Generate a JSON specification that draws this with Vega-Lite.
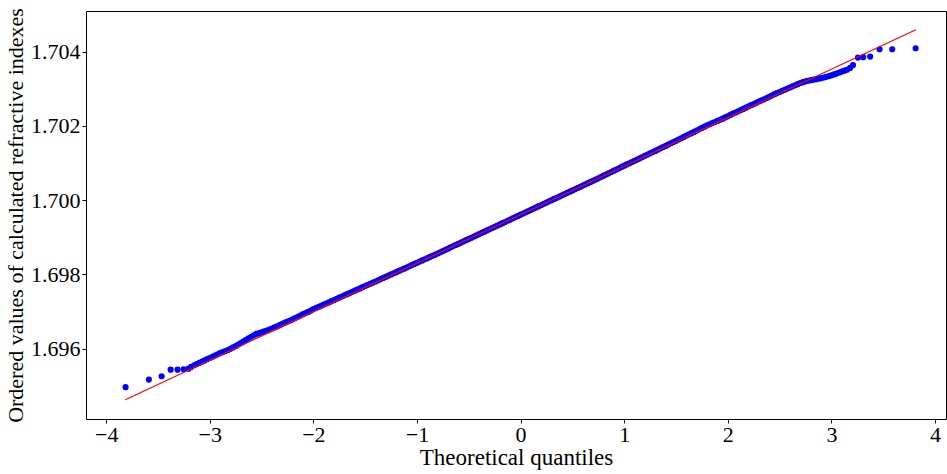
{
  "$schema": "https://vega.github.io/schema/vega-lite/v6.json",
  "autosize": "none",
  "width": 860,
  "height": 408,
  "padding": {"left": 86, "top": 11, "right": 1, "bottom": 55},
  "background": "white",
  "config": {
    "view": {"stroke": "black", "strokeWidth": 1},
    "axis": {
      "labelFont": "Liberation Serif",
      "titleFont": "Liberation Serif",
      "labelFontSize": 22,
      "titleFontSize": 22,
      "titleFontWeight": "normal",
      "labelColor": "black",
      "titleColor": "black",
      "tickColor": "black",
      "tickSize": 4,
      "domain": false,
      "grid": false
    }
  },
  "datasets": {
    "pts": [
      {"x": -3.813, "y": 1.694964}, {"x": -3.588, "y": 1.695168}, {"x": -3.465, "y": 1.695259},
      {"x": -3.378, "y": 1.695436}, {"x": -3.311, "y": 1.695436}, {"x": -3.253, "y": 1.695447},
      {"x": -3.205, "y": 1.695463}, {"x": -3.18, "y": 1.695510},
      {"x": -3.15, "y": 1.695554}, {"x": -3.125, "y": 1.695587}, {"x": -3.10, "y": 1.695619}, {"x": -3.075, "y": 1.695652},
      {"x": -3.05, "y": 1.695685}, {"x": -3.025, "y": 1.695718}, {"x": -3.00, "y": 1.695750}, {"x": -2.975, "y": 1.695783},
      {"x": -2.95, "y": 1.695815}, {"x": -2.925, "y": 1.695848}, {"x": -2.90, "y": 1.695881}, {"x": -2.875, "y": 1.695909},
      {"x": -2.85, "y": 1.695936}, {"x": -2.825, "y": 1.695966}, {"x": -2.80, "y": 1.695996}, {"x": -2.775, "y": 1.696034},
      {"x": -2.75, "y": 1.696072}, {"x": -2.725, "y": 1.696112}, {"x": -2.70, "y": 1.696152}, {"x": -2.675, "y": 1.696195},
      {"x": -2.65, "y": 1.696237}, {"x": -2.625, "y": 1.696280}, {"x": -2.60, "y": 1.696322}, {"x": -2.575, "y": 1.696360},
      {"x": -2.55, "y": 1.696398}, {"x": -2.525, "y": 1.696421}, {"x": -2.50, "y": 1.696443}, {"x": -2.475, "y": 1.696466},
      {"x": -2.45, "y": 1.696488}, {"x": -2.425, "y": 1.696516}, {"x": -2.40, "y": 1.696544}, {"x": -2.375, "y": 1.696572},
      {"x": -2.35, "y": 1.696599}, {"x": -2.325, "y": 1.696634}, {"x": -2.30, "y": 1.696669}, {"x": -2.275, "y": 1.696700},
      {"x": -2.25, "y": 1.696730}, {"x": -2.225, "y": 1.696760}, {"x": -2.20, "y": 1.696790}, {"x": -2.175, "y": 1.696825},
      {"x": -2.15, "y": 1.696860}, {"x": -2.125, "y": 1.696895}, {"x": -2.10, "y": 1.696930}, {"x": -2.075, "y": 1.696961},
      {"x": -2.05, "y": 1.696991}, {"x": -2.025, "y": 1.697029}, {"x": -2.00, "y": 1.697066}, {"x": -1.975, "y": 1.697096},
      {"x": -1.95, "y": 1.697126}, {"x": -1.925, "y": 1.697157}, {"x": -1.90, "y": 1.697187}, {"x": -1.875, "y": 1.697217},
      {"x": -1.85, "y": 1.697247}, {"x": -1.825, "y": 1.697280}, {"x": -1.80, "y": 1.697312}, {"x": -1.775, "y": 1.697343},
      {"x": -1.75, "y": 1.697373}, {"x": -1.725, "y": 1.697406}, {"x": -1.70, "y": 1.697438}, {"x": -1.675, "y": 1.697468},
      {"x": -1.65, "y": 1.697498}, {"x": -1.625, "y": 1.697531}, {"x": -1.60, "y": 1.697563}, {"x": -1.575, "y": 1.697594},
      {"x": -1.55, "y": 1.697624}, {"x": -1.525, "y": 1.697657}, {"x": -1.50, "y": 1.697689}, {"x": -1.475, "y": 1.697719},
      {"x": -1.45, "y": 1.697749}, {"x": -1.425, "y": 1.697780}, {"x": -1.40, "y": 1.697810}, {"x": -1.375, "y": 1.697843},
      {"x": -1.35, "y": 1.697875}, {"x": -1.325, "y": 1.697905}, {"x": -1.30, "y": 1.697935}, {"x": -1.275, "y": 1.697968},
      {"x": -1.25, "y": 1.698001}, {"x": -1.225, "y": 1.698031}, {"x": -1.20, "y": 1.698061}, {"x": -1.175, "y": 1.698094},
      {"x": -1.15, "y": 1.698126}, {"x": -1.125, "y": 1.698156}, {"x": -1.10, "y": 1.698186}, {"x": -1.075, "y": 1.698219},
      {"x": -1.05, "y": 1.698252}, {"x": -1.025, "y": 1.698282}, {"x": -1.00, "y": 1.698312}, {"x": -0.975, "y": 1.698345},
      {"x": -0.95, "y": 1.698377}, {"x": -0.925, "y": 1.698408}, {"x": -0.90, "y": 1.698438}, {"x": -0.875, "y": 1.698471},
      {"x": -0.85, "y": 1.698503}, {"x": -0.825, "y": 1.698533}, {"x": -0.80, "y": 1.698563}, {"x": -0.775, "y": 1.698596},
      {"x": -0.75, "y": 1.698629}, {"x": -0.725, "y": 1.698662}, {"x": -0.70, "y": 1.698694}, {"x": -0.675, "y": 1.698729},
      {"x": -0.65, "y": 1.698764}, {"x": -0.625, "y": 1.698794}, {"x": -0.60, "y": 1.698824}, {"x": -0.575, "y": 1.698857},
      {"x": -0.55, "y": 1.698890}, {"x": -0.525, "y": 1.698923}, {"x": -0.50, "y": 1.698955}, {"x": -0.475, "y": 1.698988},
      {"x": -0.45, "y": 1.699020}, {"x": -0.425, "y": 1.699053}, {"x": -0.40, "y": 1.699086}, {"x": -0.375, "y": 1.699119},
      {"x": -0.35, "y": 1.699151}, {"x": -0.325, "y": 1.699184}, {"x": -0.30, "y": 1.699216}, {"x": -0.275, "y": 1.699249},
      {"x": -0.25, "y": 1.699282}, {"x": -0.225, "y": 1.699315}, {"x": -0.20, "y": 1.699347}, {"x": -0.175, "y": 1.699380},
      {"x": -0.15, "y": 1.699412}, {"x": -0.125, "y": 1.699445}, {"x": -0.10, "y": 1.699477}, {"x": -0.075, "y": 1.699510},
      {"x": -0.05, "y": 1.699543}, {"x": -0.025, "y": 1.699576}, {"x": 0.00, "y": 1.699608}, {"x": 0.025, "y": 1.699641},
      {"x": 0.05, "y": 1.699673}, {"x": 0.075, "y": 1.699706}, {"x": 0.10, "y": 1.699739}, {"x": 0.125, "y": 1.699772},
      {"x": 0.15, "y": 1.699804}, {"x": 0.175, "y": 1.699837}, {"x": 0.20, "y": 1.699869}, {"x": 0.225, "y": 1.699902},
      {"x": 0.25, "y": 1.699935}, {"x": 0.275, "y": 1.699968}, {"x": 0.30, "y": 1.700000}, {"x": 0.325, "y": 1.700033},
      {"x": 0.35, "y": 1.700065}, {"x": 0.375, "y": 1.700098}, {"x": 0.40, "y": 1.700130}, {"x": 0.425, "y": 1.700163},
      {"x": 0.45, "y": 1.700196}, {"x": 0.475, "y": 1.700229}, {"x": 0.50, "y": 1.700261}, {"x": 0.525, "y": 1.700294},
      {"x": 0.55, "y": 1.700326}, {"x": 0.575, "y": 1.700359}, {"x": 0.60, "y": 1.700392}, {"x": 0.625, "y": 1.700425},
      {"x": 0.65, "y": 1.700457}, {"x": 0.675, "y": 1.700490}, {"x": 0.70, "y": 1.700522}, {"x": 0.725, "y": 1.700555},
      {"x": 0.75, "y": 1.700588}, {"x": 0.775, "y": 1.700623}, {"x": 0.80, "y": 1.700658}, {"x": 0.825, "y": 1.700691},
      {"x": 0.85, "y": 1.700723}, {"x": 0.875, "y": 1.700758}, {"x": 0.90, "y": 1.700793}, {"x": 0.925, "y": 1.700826},
      {"x": 0.95, "y": 1.700859}, {"x": 0.975, "y": 1.700894}, {"x": 1.00, "y": 1.700929}, {"x": 1.025, "y": 1.700962},
      {"x": 1.05, "y": 1.700994}, {"x": 1.075, "y": 1.701027}, {"x": 1.10, "y": 1.701060}, {"x": 1.125, "y": 1.701093},
      {"x": 1.15, "y": 1.701125}, {"x": 1.175, "y": 1.701160}, {"x": 1.20, "y": 1.701195}, {"x": 1.225, "y": 1.701228},
      {"x": 1.25, "y": 1.701261}, {"x": 1.275, "y": 1.701294}, {"x": 1.30, "y": 1.701326}, {"x": 1.325, "y": 1.701361},
      {"x": 1.35, "y": 1.701396}, {"x": 1.375, "y": 1.701429}, {"x": 1.40, "y": 1.701461}, {"x": 1.425, "y": 1.701497},
      {"x": 1.45, "y": 1.701532}, {"x": 1.475, "y": 1.701565}, {"x": 1.50, "y": 1.701597}, {"x": 1.525, "y": 1.701632},
      {"x": 1.55, "y": 1.701667}, {"x": 1.575, "y": 1.701703}, {"x": 1.60, "y": 1.701738}, {"x": 1.625, "y": 1.701771},
      {"x": 1.65, "y": 1.701803}, {"x": 1.675, "y": 1.701838}, {"x": 1.70, "y": 1.701873}, {"x": 1.725, "y": 1.701909},
      {"x": 1.75, "y": 1.701944}, {"x": 1.775, "y": 1.701979}, {"x": 1.80, "y": 1.702014}, {"x": 1.825, "y": 1.702044},
      {"x": 1.85, "y": 1.702074}, {"x": 1.875, "y": 1.702104}, {"x": 1.90, "y": 1.702134}, {"x": 1.925, "y": 1.702165},
      {"x": 1.95, "y": 1.702195}, {"x": 1.975, "y": 1.702228}, {"x": 2.00, "y": 1.702260}, {"x": 2.025, "y": 1.702295},
      {"x": 2.05, "y": 1.702330}, {"x": 2.075, "y": 1.702361}, {"x": 2.10, "y": 1.702391}, {"x": 2.125, "y": 1.702424},
      {"x": 2.15, "y": 1.702456}, {"x": 2.175, "y": 1.702491}, {"x": 2.20, "y": 1.702526}, {"x": 2.225, "y": 1.702557},
      {"x": 2.25, "y": 1.702587}, {"x": 2.275, "y": 1.702622}, {"x": 2.30, "y": 1.702657}, {"x": 2.325, "y": 1.702687},
      {"x": 2.35, "y": 1.702717}, {"x": 2.375, "y": 1.702750}, {"x": 2.40, "y": 1.702782}, {"x": 2.425, "y": 1.702818},
      {"x": 2.45, "y": 1.702853}, {"x": 2.475, "y": 1.702883}, {"x": 2.50, "y": 1.702913}, {"x": 2.525, "y": 1.702943},
      {"x": 2.55, "y": 1.702973}, {"x": 2.575, "y": 1.703004}, {"x": 2.60, "y": 1.703034}, {"x": 2.625, "y": 1.703064},
      {"x": 2.65, "y": 1.703094}, {"x": 2.675, "y": 1.703124}, {"x": 2.70, "y": 1.703154}, {"x": 2.725, "y": 1.703177},
      {"x": 2.75, "y": 1.703200}, {"x": 2.775, "y": 1.703215}, {"x": 2.80, "y": 1.703230}, {"x": 2.825, "y": 1.703243},
      {"x": 2.85, "y": 1.703255}, {"x": 2.875, "y": 1.703270}, {"x": 2.90, "y": 1.703285}, {"x": 2.925, "y": 1.703303},
      {"x": 2.95, "y": 1.703321}, {"x": 2.975, "y": 1.703341}, {"x": 3.00, "y": 1.703361}, {"x": 3.025, "y": 1.703386},
      {"x": 3.05, "y": 1.703411}, {"x": 3.075, "y": 1.703437}, {"x": 3.10, "y": 1.703462}, {"x": 3.125, "y": 1.703487},
      {"x": 3.15, "y": 1.703512}, {"x": 3.18, "y": 1.703560},
      {"x": 3.208, "y": 1.703635}, {"x": 3.256, "y": 1.703839}, {"x": 3.307, "y": 1.703850},
      {"x": 3.374, "y": 1.703866}, {"x": 3.465, "y": 1.704064}, {"x": 3.587, "y": 1.704064},
      {"x": 3.813, "y": 1.704091}
    ],
    "fit": [
      {"x": -3.815, "y": 1.694626},
      {"x": 3.815, "y": 1.704590}
    ]
  },
  "layer": [
    {
      "data": {"name": "pts"},
      "mark": {"type": "circle", "color": "#0000ff", "opacity": 1, "size": 38},
      "encoding": {
        "x": {
          "field": "x", "type": "quantitative",
          "scale": {"domain": [-4.195, 4.106], "nice": false, "zero": false},
          "axis": {"title": "Theoretical quantiles", "titleFontSize": 23, "values": [-4, -3, -2, -1, 0, 1, 2, 3, 4], "format": "d", "labelPadding": 1, "titlePadding": 1}
        },
        "y": {
          "field": "y", "type": "quantitative",
          "scale": {"domain": [1.694107, 1.705093], "nice": false, "zero": false},
          "axis": {"title": "Ordered values of calculated refractive indexes", "values": [1.696, 1.698, 1.7, 1.702, 1.704], "format": ".3f", "labelPadding": 2, "titlePadding": 3}
        }
      }
    },
    {
      "data": {"name": "fit"},
      "mark": {"type": "line", "color": "#ff0000", "strokeWidth": 1.2},
      "encoding": {
        "x": {"field": "x", "type": "quantitative"},
        "y": {"field": "y", "type": "quantitative"}
      }
    }
  ]
}
